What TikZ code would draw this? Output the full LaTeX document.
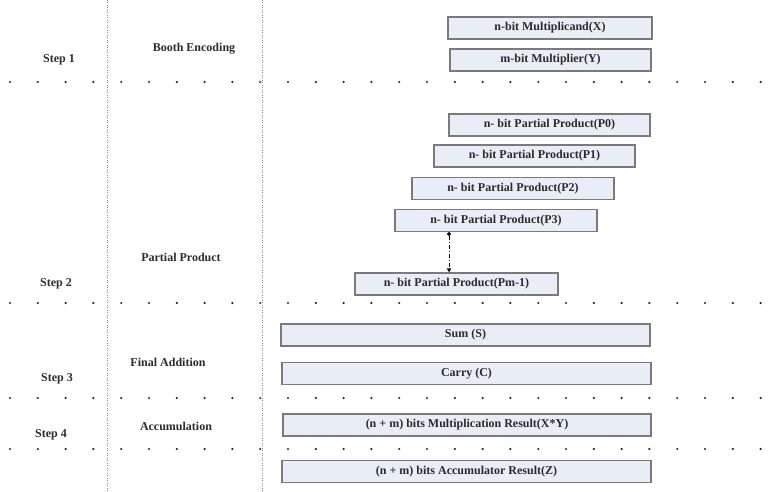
\documentclass[tikz,border=0pt]{standalone}
\usepackage{fontspec}
\setmainfont{Liberation Serif}
\usetikzlibrary{arrows.meta}
\definecolor{boxfill}{HTML}{E9EDF7}
\definecolor{boxline}{HTML}{7A7A7A}
\definecolor{inktext}{HTML}{2B2B2B}
\definecolor{sepgray}{HTML}{8A8A8A}
\tikzset{
  pbox/.style={draw=boxline, line width=1.1pt, fill=boxfill, rectangle,
    minimum height=22pt, inner sep=0pt, text=inktext,
    font=\fontsize{12}{13}\selectfont\bfseries},
  steplabel/.style={text=inktext, inner sep=0pt,
    font=\fontsize{12}{13}\selectfont\bfseries},
  colsep/.style={draw=sepgray, line width=1pt, dash pattern=on 0.9pt off 1.6pt},
  rowdot/.style={fill=black!85, draw=none},
  link/.style={draw=black, line width=0.9pt, dash pattern=on 4pt off 2pt on 1pt off 2pt,
    {Circle[length=4pt]}-{Triangle[length=4pt,width=4pt]}}
}
\begin{document}
\begin{tikzpicture}[x=1pt,y=-1pt]
  \useasboundingbox (0,0) rectangle (774,492);

  % column separators
  \draw[colsep] (107,0) -- (107,492);
  \draw[colsep] (262,0) -- (262,492);

  % row separators made of sparse dots
  \foreach \yy in {82,303,398,449}{
    \foreach \k in {0,...,27}{
      \fill[rowdot] ({10+27.8*\k},\yy) circle (1.2pt);
    }
  }

  % step and phase labels
  \node[steplabel] (s1) at (59,60) {Step 1};
  \node[steplabel] (s2) at (56,284) {Step 2};
  \node[steplabel] (s3) at (57,379) {Step 3};
  \node[steplabel] (s4) at (51,435) {Step 4};
  \node[steplabel] (booth) at (194,49) {Booth Encoding};
  \node[steplabel] (ppl) at (181,257) {Partial Product};
  \node[steplabel] (fadd) at (168,362) {Final Addition};
  \node[steplabel] (accl) at (176,426) {Accumulation};

  % operands
  \node[pbox, minimum width=204pt] (mcand) at (550,28) {n-bit Multiplicand(X)};
  \node[pbox, minimum width=201pt] (mplier) at (550.5,60) {m-bit Multiplier(Y)};

  % partial products
  \node[pbox, minimum width=201pt] (p0) at (549.5,125) {n- bit Partial Product(P0)};
  \node[pbox, minimum width=201pt] (p1) at (534.5,156) {n- bit Partial Product(P1)};
  \node[pbox, minimum width=202pt] (p2) at (513,188.5) {n- bit Partial Product(P2)};
  \node[pbox, minimum width=202pt] (p3) at (496,220.5) {n- bit Partial Product(P3)};
  \node[pbox, minimum width=203pt] (pm) at (456.5,284) {n- bit Partial Product(Pm-1)};

  % final addition
  \node[pbox, minimum width=369pt] (sum) at (465.5,335) {Sum (S)};
  \node[pbox, minimum width=369pt] (carry) at (466.5,373.5) {Carry (C)};

  % results
  \node[pbox, minimum width=368pt] (mres) at (467,425) {(n + m) bits Multiplication Result(X*Y)};
  \node[pbox, minimum width=369pt] (ares) at (466.5,471.5) {(n + m) bits Accumulator Result(Z)};

  % continuation of the partial product stack
  \draw[link] (p3.south -| 449,0) -- (pm.north -| 449,0);
\end{tikzpicture}
\end{document}
